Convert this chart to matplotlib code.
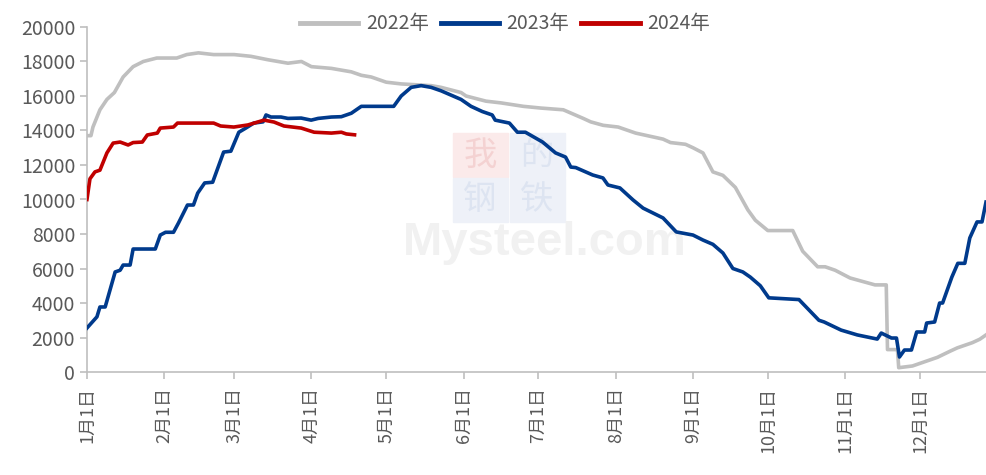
import matplotlib.pyplot as plt
from matplotlib.patches import Rectangle

plt.rcParams['font.family'] = ['Noto Sans CJK SC', 'DejaVu Sans']

# day of year (0 = 1月1日) and values
d22 = [0, 1.6, 2.4, 5.2, 8, 11, 14.5, 18.5, 22.6, 28, 36, 40, 44.7, 50.8, 59, 65.7, 72.6,
       80.6, 86, 90, 98, 106, 110, 114, 120, 126, 138, 142, 150, 152, 160, 166, 175, 182,
       191, 199, 202, 207, 213, 220, 231, 234, 240, 243, 247, 251, 255, 260, 265, 268, 273,
       283, 287, 293, 296, 300, 306, 316, 320.5, 321, 325, 325.5, 331, 336, 341, 346, 349,
       355, 358, 360.5]
v22 = [13700, 13700, 14200, 15200, 15800, 16200, 17100, 17700, 18000, 18200, 18200, 18400,
       18500, 18400, 18400, 18300, 18100, 17900, 18000, 17700, 17600, 17400, 17200, 17100,
       16800, 16700, 16600, 16500, 16200, 16000, 15700, 15600, 15400, 15300, 15200, 14700,
       14500, 14300, 14200, 13850, 13500, 13300, 13200, 13000, 12700, 11600, 11400, 10700,
       9400, 8800, 8200, 8200, 7000, 6100, 6100, 5900, 5450, 5050, 5050, 1300, 1300, 250,
       350, 600, 850, 1200, 1400, 1700, 1900, 2150]

d23 = [0, 4, 5.2, 7.3, 11.3, 13.3, 14.5, 17.3, 18.5, 27.4, 29.4, 31.5, 34.7, 36.7, 40.3,
       42.7, 44.4, 47.2, 50.4, 54.8, 57.7, 60.9, 63.7, 66.9, 70.6, 71.8, 73.8, 77.8, 80.6,
       85.9, 89.9, 92.7, 98, 102, 106, 110, 116, 123, 126, 130, 134, 138, 142, 150, 154,
       158.5, 162.5, 163.7, 169.4, 172.6, 175.8, 182.7, 187.9, 191.9, 194, 196, 202.8, 206.9,
       208.9, 213.7, 219, 223, 231, 236.3, 243, 247, 251, 255, 259, 263, 266, 270, 273.4,
       285.5, 289.5, 293.5, 295.6, 302.4, 308.9, 316.9, 318.5, 322.6, 324.6, 325.8, 327.8,
       330.6, 332.7, 335.9, 336.7, 339.9, 341.9, 343.1, 346.8, 349.2, 352, 354, 356.9, 358.9,
       360.5]
v23 = [2550, 3200, 3770, 3770, 5800, 5900, 6200, 6200, 7130, 7130, 7940, 8100, 8100, 8640,
       9680, 9680, 10370, 10960, 11000, 12750, 12800, 13900, 14140, 14430, 14500, 14900,
       14780, 14780, 14700, 14720, 14600, 14700, 14780, 14800, 15000, 15400, 15400, 15400,
       16000, 16500, 16600, 16500, 16300, 15800, 15400, 15100, 14900, 14600, 14430, 13900,
       13900, 13330, 12700, 12460, 11880, 11850, 11420, 11250, 10840, 10670, 9970, 9500,
       8930, 8120, 7940, 7650, 7400, 6900, 6000, 5800, 5500, 5000, 4300, 4200, 3600, 3000,
       2900, 2430, 2150, 1910, 2260, 1970, 1970, 870, 1275, 1275, 2320, 2320, 2840, 2900,
       4000, 4000, 5500, 6300, 6300, 7770, 8700, 8700, 9850]

d24 = [0, 1.2, 3.2, 5.2, 8, 10.5, 13.3, 16.5, 18.5, 22.2, 24.2, 28.2, 29.4, 34.7, 36.3,
       45.6, 50.8, 53.6, 58.9, 64.5, 71, 75, 79, 85.9, 91.1, 98, 102, 104, 107.3]
v24 = [10000, 11200, 11600, 11700, 12700, 13270, 13330, 13160, 13300, 13330, 13740, 13850,
       14140, 14200, 14430, 14430, 14430, 14260, 14200, 14320, 14600, 14490, 14260, 14140,
       13900, 13850, 13900, 13800, 13750]

month_days = [0, 31, 59, 90, 120, 151, 181, 212, 243, 273, 304, 334]
month_labels = [f'{m}月1日' for m in range(1, 13)]

fig = plt.figure(figsize=(9.86, 4.75), dpi=100)
ax = fig.add_axes([0.0882, 0.2168, 0.9118, 0.7264])

# watermark (faint, behind the lines)
tf = fig.transFigure
tiles = [(453, 133, '我', '#fbeaea', '#f4d2d2'), (510, 133, '的', '#eef1f8', '#dde4f1'),
         (453, 178, '钢', '#eef1f8', '#dde4f1'), (510, 178, '铁', '#eef1f8', '#dde4f1')]
for px, py, ch, bg, fg in tiles:
    ax.add_patch(Rectangle((px / 986, 1 - (py + 44) / 475), 55 / 986, 44 / 475,
                           transform=tf, color=bg, zorder=0, clip_on=False))
    ax.text((px + 27) / 986, 1 - (py + 22) / 475, ch, transform=tf, fontsize=24,
            color=fg, ha='center', va='center', zorder=0.5)
ax.text(545 / 986, 1 - 243 / 475, 'Mysteel.com', transform=tf, fontsize=34,
        fontweight='bold', color='#f1f1f1', ha='center', va='center', zorder=0.6,
        family='Liberation Sans')

ax.plot(d22, v22, color='#BFBFBF', lw=2.6, label='2022年', zorder=3)
ax.plot(d23, v23, color='#003A8C', lw=2.6, label='2023年', zorder=3)
ax.plot(d24, v24, color='#C00000', lw=2.6, label='2024年', zorder=3)

ax.set_xlim(0, 360.5)
ax.set_ylim(0, 20000)
ax.set_yticks(range(0, 20001, 2000))
ax.set_xticks(month_days)
ax.set_xticklabels(month_labels, rotation=90)

for s in ['top', 'right']:
    ax.spines[s].set_visible(False)
for s in ['left', 'bottom']:
    ax.spines[s].set_color('#BFBFBF')
    ax.spines[s].set_linewidth(1.2)
ax.tick_params(axis='both', colors='#BFBFBF', labelcolor='#595959', labelsize=14,
               length=5, width=1.2)
ax.tick_params(axis='x', pad=6, labelsize=13)

ax.legend(loc='upper center', bbox_to_anchor=(0.465, 1.09), ncol=3, frameon=False,
          fontsize=14, handlelength=3.0, columnspacing=0.6, handletextpad=0.4,
          labelcolor='#595959')
for h in ax.get_legend().get_lines():
    h.set_linewidth(3.5)

fig.savefig('out.png', dpi=100)
